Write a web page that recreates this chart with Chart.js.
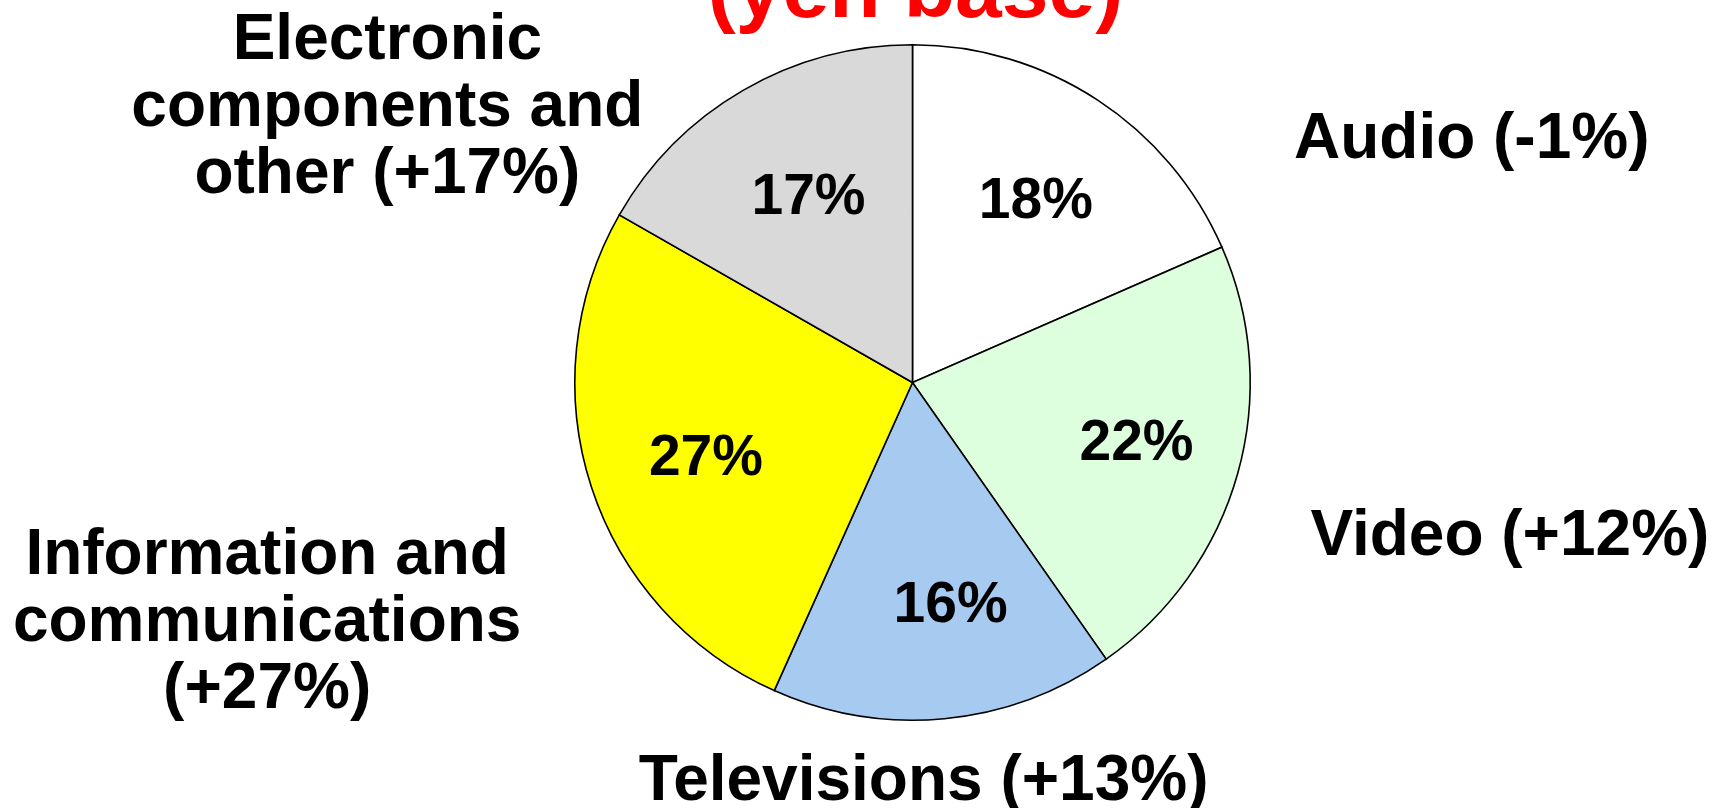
<!DOCTYPE html>
<html>
<head>
<meta charset="utf-8">
<script src="https://cdn.jsdelivr.net/npm/chart.js@4/dist/chart.umd.min.js"></script>
<style>
  html, body { margin: 0; padding: 0; background: #fff; }
  #wrap { width: 1713px; height: 808px; }
</style>
</head>
<body>
<div id="wrap"><canvas id="shareChart" width="1713" height="808"></canvas></div>
<script>
// Data (clockwise from 12 o'clock)
const categories = ["Audio", "Video", "Televisions", "Information and communications", "Electronic components and other"];
const shares = [18.4, 21.8, 16.4, 26.5, 16.7];
const growth = ["-1%", "+12%", "+13%", "+27%", "+17%"];
const sliceColors = ["#ffffff", "#ddffdd", "#a6caf0", "#ffff00", "#d9d9d9"];
const titleText = "(yen base)";

// Category label lines and where they sit (in pie radii from the centre)
const labelLines = [
  ["Audio (" + growth[0] + ")"],
  ["Video (" + growth[1] + ")"],
  ["Televisions (" + growth[2] + ")"],
  ["Information and", "communications", "(" + growth[3] + ")"],
  ["Electronic", "components and", "other (" + growth[4] + ")"]
];
const labelAnchors = [
  [1.656, -0.718],
  [1.769, 0.458],
  [0.033, 1.185],
  [-1.911, 0.514],
  [-1.555, -1.009]
];
// where the percentages sit: share of the radius, and a nudge off the mid angle (deg)
const pctRadius = [0.655, 0.686, 0.663, 0.649, 0.633];
const pctNudge = [0.7, -0.9, -4.4, -1.5, 1];

const FONT = '"Liberation Sans", Arial, Helvetica, sans-serif';

// Draws the percent labels inside slices, the category labels and the clipped title
const pieText = {
  id: "pieText",
  afterDatasetsDraw(chart) {
    const ctx = chart.ctx;
    const arcs = chart.getDatasetMeta(0).data;
    const values = chart.data.datasets[0].data;
    const total = values.reduce((a, b) => a + b, 0);
    ctx.save();
    ctx.fillStyle = "#000";
    ctx.textAlign = "center";
    ctx.textBaseline = "middle";

    // percentages
    ctx.font = "bold 57px " + FONT;
    arcs.forEach((arc, i) => {
      const p = arc.getProps(["x", "y", "startAngle", "endAngle", "outerRadius"], true);
      const mid = (p.startAngle + p.endAngle) / 2 + pctNudge[i] * Math.PI / 180;
      const r = p.outerRadius * pctRadius[i];
      ctx.fillText(Math.round(values[i] / total * 100) + "%", p.x + Math.cos(mid) * r, p.y + Math.sin(mid) * r + 3);
    });

    // category names
    const a0 = arcs[0].getProps(["x", "y", "outerRadius"], true);
    ctx.font = "bold 64px " + FONT;
    labelLines.forEach((lines, i) => {
      const cx = a0.x + labelAnchors[i][0] * a0.outerRadius;
      const cy = a0.y + labelAnchors[i][1] * a0.outerRadius;
      lines.forEach((line, j) => ctx.fillText(line, cx, cy + j * 67));
    });

    // title, mostly above the top edge
    ctx.fillStyle = "#ff0000";
    ctx.font = "bold 84px " + FONT;
    ctx.textBaseline = "alphabetic";
    ctx.fillText(titleText, a0.x + 3, 17);
    ctx.restore();
  }
};

new Chart(document.getElementById("shareChart").getContext("2d"), {
  type: "pie",
  data: {
    labels: categories,
    datasets: [{
      data: shares,
      backgroundColor: sliceColors,
      borderColor: "#000000",
      borderWidth: 1.6,
      borderJoinStyle: "miter"
    }]
  },
  options: {
    responsive: false,
    animation: false,
    devicePixelRatio: 1,
    layout: { padding: { left: 300, right: 188, top: 44, bottom: 87 } },
    plugins: {
      legend: { display: false },
      tooltip: { enabled: false },
      title: { display: false }
    }
  },
  plugins: [pieText]
});
</script>
</body>
</html>
